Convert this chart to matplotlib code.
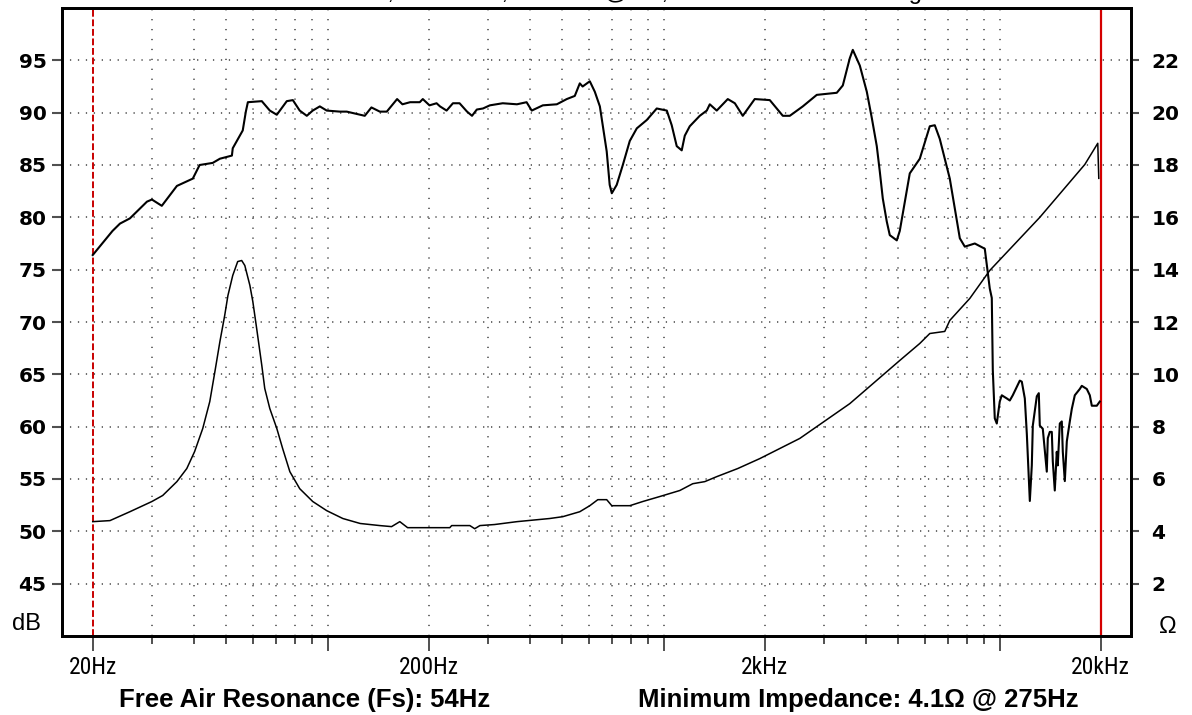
import matplotlib
matplotlib.use("Agg")
import matplotlib.pyplot as plt
from matplotlib import font_manager
from matplotlib.ticker import FixedLocator, NullFormatter

# SPL response (dB)
spl_freq = [20.0, 22.9, 24.1, 25.8, 29.0, 30.0, 32.1, 35.6, 39.7, 41.6, 45.5, 47.8, 51.9, 52.2,
            54.8, 55.9, 57.1, 57.9, 63.7, 67.3, 70.6, 75.6, 78.8, 82.6, 86.7, 90.3, 94.8, 99.4,
            108.7, 114, 129, 135, 143, 150, 161, 167, 176, 188, 192, 201, 211, 216, 226, 236,
            247, 260, 269, 278, 290, 304, 332, 366, 391, 405, 437, 481, 515, 544, 563, 574,
            603, 624, 646, 659, 677, 691, 701, 725, 756, 793, 832, 891, 954, 1022, 1057, 1094,
            1132, 1156, 1196, 1281, 1344, 1372, 1439, 1552, 1629, 1720, 1867, 2070, 2263, 2374,
            2595, 2856, 3276, 3414, 3581, 3656, 3836, 4024, 4164, 4309, 4398, 4490, 4614, 4710,
            4942, 5044, 5402, 5786, 6196, 6412, 6634, 7106, 7612, 7876, 8434, 9032, 9346, 9476,
            9542, 9672, 9806, 10008, 10148, 10500, 10720, 10942, 11246, 11482, 11640, 11882,
            12048, 12212, 12298, 12466, 12552, 12900, 13078, 13168, 13440, 13814, 13910, 14100,
            14296, 14394, 14592, 14792, 14894, 15102, 15310, 15416, 15630, 15846, 16174, 16398,
            16738, 17320, 17560, 18170, 18550, 18806, 19460, 19864]
spl_db = [76.4, 78.7, 79.4, 79.9, 81.5, 81.7, 81.1, 83.0, 83.7, 85.0, 85.2, 85.6, 85.9, 86.6,
          87.8, 88.3, 90.1, 91.0, 91.1, 90.2, 89.8, 91.1, 91.2, 90.2, 89.7, 90.2, 90.6, 90.2,
          90.1, 90.1, 89.7, 90.5, 90.1, 90.1, 91.3, 90.8, 91.0, 91.0, 91.3, 90.7, 90.9, 90.6,
          90.2, 90.9, 90.9, 90.1, 89.7, 90.3, 90.4, 90.7, 90.9, 90.8, 91.0, 90.2, 90.7, 90.8,
          91.3, 91.6, 92.8, 92.5, 93.0, 92.0, 90.6, 88.8, 86.3, 83.1, 82.3, 83.1, 85.0, 87.3,
          88.5, 89.3, 90.4, 90.2, 88.8, 86.8, 86.4, 87.8, 88.7, 89.7, 90.2, 90.8, 90.2, 91.3,
          90.9, 89.7, 91.3, 91.2, 89.7, 89.7, 90.6, 91.7, 91.9, 92.6, 95.2, 96.0, 94.5, 92.0,
          89.5, 86.8, 84.4, 81.8, 79.6, 78.3, 77.8, 78.7, 84.2, 85.6, 88.7, 88.8, 87.5, 83.7,
          78.0, 77.2, 77.5, 77.0, 73.2, 72.3, 65.4, 60.8, 60.3, 62.4, 63.0, 62.7, 62.5, 63.0,
          63.8, 64.4, 64.3, 62.7, 59.3, 55.0, 52.9, 56.3, 60.1, 62.9, 63.2, 60.1, 59.8, 55.7,
          58.9, 59.5, 59.5, 56.7, 53.9, 57.6, 56.3, 60.3, 60.5, 57.6, 54.8, 58.6, 60.5, 61.7,
          63.0, 63.6, 63.9, 63.6, 63.0, 62.0, 62.0, 62.4]

# impedance magnitude (ohm)
imp_freq = [20.0, 22.5, 25.8, 30.0, 32.3, 35.6, 38.1, 40.2, 42.5, 44.6, 46.2, 47.8, 49.4, 50.5,
            52.2, 54.0, 55.5, 56.7, 58.7, 59.9, 61.5, 63.7, 65.0, 67.3, 70.6, 73.5, 77.2, 82.6,
            90.3, 99.4, 111, 125, 143, 155, 164, 173, 231, 234, 265, 274, 284, 314, 366, 458,
            501, 563, 603, 637, 677, 701, 793, 867, 974, 1117, 1221, 1326, 1439, 1662, 1933,
            2542, 3581, 5044, 5786, 6196, 6866, 7106, 8150, 9346, 13168, 17926, 19590, 19726]
imp_ohm = [4.37, 4.41, 4.75, 5.14, 5.37, 5.90, 6.40, 7.05, 7.93, 8.96, 10.11, 11.25, 12.25, 13.01,
           13.78, 14.31, 14.35, 14.16, 13.40, 12.78, 11.75, 10.34, 9.46, 8.69, 7.93, 7.16, 6.28,
           5.63, 5.14, 4.79, 4.49, 4.30, 4.22, 4.18, 4.37, 4.14, 4.14, 4.22, 4.22, 4.10, 4.22,
           4.26, 4.37, 4.49, 4.56, 4.75, 4.98, 5.21, 5.21, 4.98, 4.98, 5.14, 5.33, 5.56, 5.82,
           5.90, 6.09, 6.40, 6.78, 7.55, 8.88, 10.53, 11.18, 11.56, 11.64, 12.06, 12.90, 13.97,
           16.00, 18.02, 18.83, 17.49]

db_ticks = [45, 50, 55, 60, 65, 70, 75, 80, 85, 90, 95]
ohm_ticks = [2, 4, 6, 8, 10, 12, 14, 16, 18, 20, 22]
freq_major = [20, 100, 200, 1000, 2000, 10000, 20000]
freq_labels = ["20Hz", "", "200Hz", "", "2kHz", "", "20kHz"]
freq_minor = [30, 40, 50, 60, 70, 80, 90, 300, 400, 500, 600, 700, 800, 900,
              3000, 4000, 5000, 6000, 7000, 8000, 9000]
grid_freqs = freq_minor + [100, 200, 1000, 2000, 10000]

title = "Measured Driver Data, 2.83V/1m, Free Air @ 1V, 1/24 Octave Smoothing"
fs_text = "Free Air Resonance (Fs): 54Hz"
zmin_text = "Minimum Impedance: 4.1\u03a9 @ 275Hz"


# pick a narrow face for the frequency labels if one is installed
def narrow_font():
    names = {f.name for f in font_manager.fontManager.ttflist}
    for cand in ["Liberation Sans Narrow", "DejaVu Sans Condensed", "Roboto Condensed",
                 "Open Sans Condensed", "Noto Sans Condensed", "Arial Narrow"]:
        if cand in names:
            return cand, "normal", 17
    for f in font_manager.fontManager.ttflist:
        if f.stretch in ("condensed", "semi-condensed", "extra-condensed") and f.style == "normal":
            return f.name, f.stretch, 17
    return "Roboto", "normal", 14


xfont, xstretch, xsize = narrow_font()

fig = plt.figure(figsize=(11.92, 7.15), dpi=100)
ax = fig.add_axes([62 / 1192, 79 / 715, (1131 - 62) / 1192, (636 - 8) / 715])
ax.set_xscale("log")
ax.set_xlim(16.2, 24600)
ax.set_ylim(40, 100)

# dotted grid
grid_col = "#606060"
for v in db_ticks:
    ax.axhline(v, color=grid_col, lw=1.3, dashes=(0.7, 3.7), zorder=1)
for f in grid_freqs:
    ax.axvline(f, color=grid_col, lw=1.3, dashes=(0.7, 4.8), zorder=1)
ax.axvline(20, color="#c80000", lw=1.4, dashes=(3.5, 1.4), zorder=2)
ax.axvline(20000, color="#d40000", lw=1.6, zorder=2)

ax.plot(spl_freq, spl_db, color="black", lw=1.5, zorder=4)

ax2 = ax.twinx()
ax2.set_ylim(0, 24)
ax2.plot(imp_freq, imp_ohm, color="black", lw=1.1, zorder=4)

for a in (ax, ax2):
    for s in a.spines.values():
        s.set_linewidth(2)
        s.set_color("black")

ax.xaxis.set_major_locator(FixedLocator(freq_major))
ax.set_xticklabels(freq_labels)
ax.xaxis.set_minor_locator(FixedLocator(freq_minor))
ax.xaxis.set_minor_formatter(NullFormatter())
ax.tick_params(axis="x", which="major", length=10.5, width=1.4, color="#505050", pad=4)
ax.tick_params(axis="x", which="minor", length=5.8, width=1.4, color="#505050")
for lab in ax.get_xticklabels():
    lab.set_family([xfont, "DejaVu Sans"])
    lab.set_stretch(xstretch)
    lab.set_fontsize(xsize)

ax.set_yticks(db_ticks)
ax.set_yticklabels([str(v) for v in db_ticks], fontsize=14.5, fontweight="bold",
                   family="DejaVu Sans")
ax.tick_params(axis="y", length=7.2, width=1.5, color="#505050", pad=4)

ax2.set_yticks(ohm_ticks)
ax2.set_yticklabels([str(v) for v in ohm_ticks], fontsize=14.5, fontweight="bold",
                    family="DejaVu Sans")
ax2.tick_params(axis="y", length=5.8, width=1.5, color="#505050", pad=9)

fig.text(12 / 1192, (715 - 630) / 715, "dB", fontsize=17, family="Liberation Sans",
         ha="left", va="baseline")
fig.text(1168 / 1192, (715 - 633) / 715, "\u03a9", fontsize=17, family="Liberation Sans",
         ha="center", va="baseline")

fig.text(305 / 1192, (715 - 707) / 715, fs_text, fontsize=18.5, fontweight="bold",
         family="Liberation Sans", ha="center", va="baseline")
fig.text(858 / 1192, (715 - 707) / 715, zmin_text, fontsize=18.5, fontweight="bold",
         family="Liberation Sans", ha="center", va="baseline")

# the title sits above the top edge, only its descenders show (as in the source image)
fig.text(156 / 1192, (715 + 0.5) / 715, title, fontsize=17, family="Liberation Sans",
         ha="left", va="baseline")

fig.savefig("out.png", dpi=100, facecolor="white")
plt.close()
